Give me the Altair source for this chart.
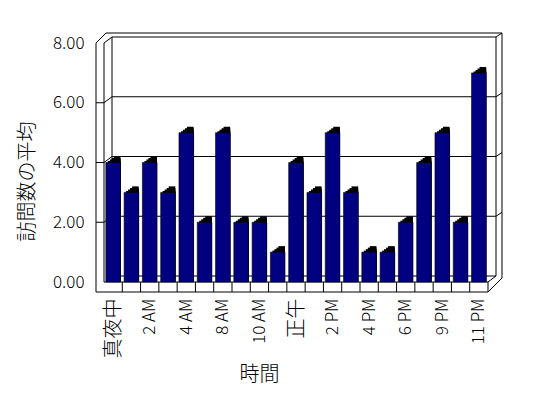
import json
import altair as alt
import pandas as pd

# ---- data ----
hours = ["真夜中", "1 AM", "2 AM", "3 AM", "4 AM", "6 AM", "8 AM", "9 AM", "10 AM",
         "11 AM", "正午", "1 PM", "2 PM", "3 PM", "4 PM", "5 PM", "6 PM", "8 PM",
         "9 PM", "10 PM", "11 PM"]
visits = [4, 3, 4, 3, 5, 2, 5, 2, 2, 1, 4, 3, 5, 3, 1, 1, 2, 4, 5, 2, 7]
y_ticks = [0, 2, 4, 6, 8]
grid_values = [2, 4, 6]
x_label_positions = list(range(0, 21, 2))

df = pd.DataFrame({"hour": hours, "visits": visits})
df["idx"] = range(len(df))
div_df = pd.DataFrame({"b": [i + 0.5 for i in range(len(hours) - 1)]})
grid_df = pd.DataFrame({"v": grid_values})

FONT = "Noto Sans CJK JP"
W, H = 384, 239
DX, DY = 8, -6  # depth of the 3D box (pixels)

xs = alt.Scale(domain=[-0.5, len(hours) - 0.5], nice=False, zero=False)
ys = alt.Scale(domain=[0, 8], nice=False, zero=True)

label_expr = json.dumps(hours, ensure_ascii=False) + "[datum.value]"
cjk_test = "datum.value == 0 || datum.value == 10"
x_axis = alt.Axis(values=x_label_positions, labelExpr=label_expr,
                  labelAngle=270,
                  labelFontSize=alt.condition(cjk_test, alt.value(20), alt.value(17)),
                  labelFont=FONT, labelFontWeight=300, labelColor="black",
                  labelPadding=6, offset=10,
                  domain=False, ticks=False, grid=False,
                  title="時間", titleFont=FONT, titleFontSize=20,
                  titleFontWeight=300, titleColor="black",
                  titleX=155, titleY=72, titleBaseline="top")
y_axis = alt.Axis(values=y_ticks, format=".2f", offset=8,
                  domain=False, ticks=False, grid=False,
                  labelFontSize=17, labelFont=FONT, labelFontWeight=300,
                  labelColor="black", labelPadding=12,
                  title="訪問数の平均", titleFont=FONT,
                  titleFontSize=20, titleFontWeight=300,
                  titleColor="black", titleX=-59, titleY=138,
                  titleBaseline="bottom")

one = pd.DataFrame({"a": [0]})
layers = []

# ---- frame of the 3D box (decoration) ----
segments = [
    (-8, 0, -8, 249), (0, 0, 0, 239), (-8, 0, 2, -10), (0, 0, 8, -6),
    (8, -6, 8, 233), (2, -10, 398, -10), (8, -6, 392, -6),
    (398, -10, 398, 235), (392, -6, 392, 233), (392, -6, 398, -10),
    (-8, 249, 384, 249), (0, 239, 384, 239), (384, 239, 384, 249),
    (384, 249, 398, 235), (384, 239, 392, 233), (8, 233, 392, 233),
]
for x1, y1, x2, y2 in segments:
    layers.append(
        alt.Chart(one).mark_rule(color="black", strokeWidth=1).encode(
            x=alt.value(x1), y=alt.value(y1), x2=alt.value(x2), y2=alt.value(y2)
        )
    )

# gridlines: front stub, diagonal on left wall, back wall line, right wall diagonal
gy = alt.Y("v:Q", scale=ys, axis=y_axis)
gy2 = alt.Y2("v")
layers.append(alt.Chart(grid_df).mark_rule(color="black").encode(
    y=gy, x=alt.value(-8), x2=alt.value(0)))
layers.append(alt.Chart(grid_df).mark_rule(color="black", y2Offset=DY).encode(
    y=gy, y2=gy2, x=alt.value(0), x2=alt.value(DX)))
layers.append(alt.Chart(grid_df).mark_rule(color="black", yOffset=DY).encode(
    y=gy, x=alt.value(DX), x2=alt.value(W + DX)))
layers.append(alt.Chart(grid_df).mark_rule(color="black", yOffset=DY, y2Offset=DY - 4).encode(
    y=gy, y2=gy2, x=alt.value(W + DX), x2=alt.value(W + DX + 6)))

# floor dividers
layers.append(alt.Chart(div_df).mark_rule(color="black").encode(
    x=alt.X("b:Q", scale=xs, axis=x_axis), y=alt.value(239), y2=alt.value(249)))

# ---- bars: black depth (stepped) then blue fronts ----
base = alt.Chart(df).transform_calculate(
    lo="datum.idx - 0.4", hi="datum.idx + 0.4"
)
enc = dict(
    x=alt.X("lo:Q", scale=xs, axis=x_axis), x2="hi:Q",
    y=alt.Y("visits:Q", scale=ys, axis=y_axis), y2=alt.Y2(datum=0),
)
for k in (1, 2, 3, 4):
    layers.append(base.mark_rect(color="black", xOffset=DX * k / 4,
                                 yOffset=DY * k / 4).encode(**enc))

layers.append(base.mark_rect(color="#000080", stroke="black",
                             strokeWidth=0.6).encode(**enc))

chart = alt.layer(*layers).properties(
    width=W, height=H,
    autosize=alt.AutoSizeParams(type="none"),
    padding={"left": 96, "top": 35, "right": 52, "bottom": 108},
    background="white",
).configure_view(stroke=None)

chart.save("out.html", embed_options={"renderer": "svg", "actions": False})
